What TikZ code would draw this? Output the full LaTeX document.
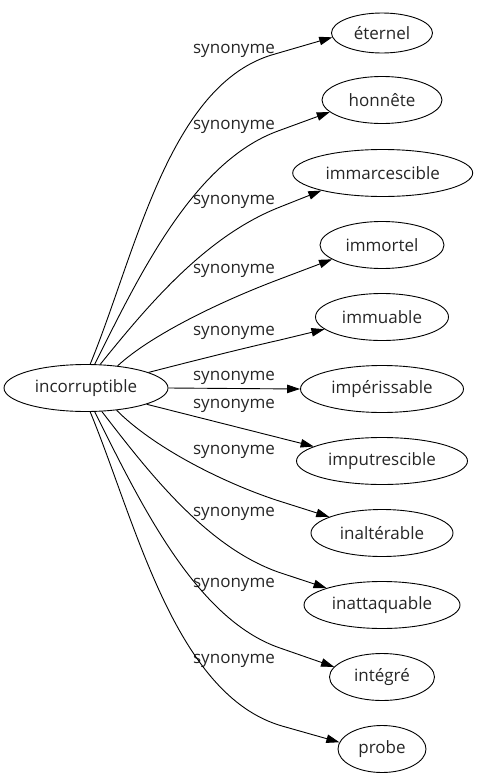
\documentclass[tikz,border=0pt]{standalone}
\usepackage{fontspec}
\setmainfont{Open Sans}
\usetikzlibrary{arrows.meta,shapes.geometric}
\tikzset{
  every picture/.style={x=1pt,y=-1pt},
  word/.style={ellipse,draw=black,line width=0.9pt,inner sep=0pt,minimum height=47pt,font=\fontsize{17}{20}\selectfont,text=black!85},
  rel/.style={font=\fontsize{17}{20}\selectfont,text=black!85,inner sep=0pt},
  link/.style={draw=black,line width=0.9pt,-{Triangle[length=13pt,width=8.5pt]}}
}
\begin{document}
\begin{tikzpicture}
\useasboundingbox (0,0) rectangle (477,779);
\node[word,minimum width=164pt] (src) at (86,388) {incorruptible};
\node[word,minimum width=101pt,minimum height=40pt] (t1) at (382,33) {éternel};
\node[word,minimum width=120pt] (t2) at (382,100) {honnête};
\node[word,minimum width=180pt] (t3) at (382.7,173) {immarcescible};
\node[word,minimum width=124pt] (t4) at (382,245) {immortel};
\node[word,minimum width=133pt] (t5) at (382,317) {immuable};
\node[word,minimum width=163pt] (t6) at (382,389) {impérissable};
\node[word,minimum width=171pt] (t7) at (382,461) {imputrescible};
\node[word,minimum width=142pt] (t8) at (382,533) {inaltérable};
\node[word,minimum width=156pt] (t9) at (382,605) {inattaquable};
\node[word,minimum width=105pt] (t10) at (382,677) {intégré};
\node[word,minimum width=88pt] (t11) at (382,749) {probe};

\node[rel] (l1) at (234,51) {synonyme};
\node[rel] (l2) at (234,127) {synonyme};
\node[rel] (l3) at (234,202) {synonyme};
\node[rel] (l4) at (234,271) {synonyme};
\node[rel] (l5) at (234,333) {synonyme};
\node[rel] (l6) at (234,378) {synonyme};
\node[rel] (l7) at (234,406) {synonyme};
\node[rel] (l8) at (234,452) {synonyme};
\node[rel] (l9) at (234,514) {synonyme};
\node[rel] (l10) at (234,585) {synonyme};
\node[rel] (l11) at (234,661) {synonyme};

\path[link] (src.80.1) .. controls (136,253) and (169,83) .. (275,54) -- (t1.185.8);
\path[link] (src.70.8) .. controls (139,276) and (193,162) .. (278,131) -- (t2.193.2);
\path[link] (src.59.4) .. controls (149,304) and (206,236) .. (280,207) -- (t3.196.5);
\path[link] (src.35.9) .. controls (152,334) and (224,300) .. (280,279) -- (t4.196.7);
\path[link] (src.14.7) .. controls (185,363) and (240,349) .. (280,340) -- (t5.192.8);
\path[link] (src.east) -- (t6.west);
\path[link] (src.-15.6) -- (t7.168.2);
\path[link] (src.-36.6) .. controls (152,446) and (219,481) .. (276,500) -- (t8.163.5);
\path[link] (src.-56.3) .. controls (147,470) and (205,546) .. (278,572) -- (t9.163.9);
\path[link] (src.-70.8) .. controls (139,500) and (195,619) .. (280,648) -- (t10.168);
\path[link] (src.-80.1) .. controls (136,523) and (175,695) .. (282,726) -- (t11.171.9);
\end{tikzpicture}
\end{document}
